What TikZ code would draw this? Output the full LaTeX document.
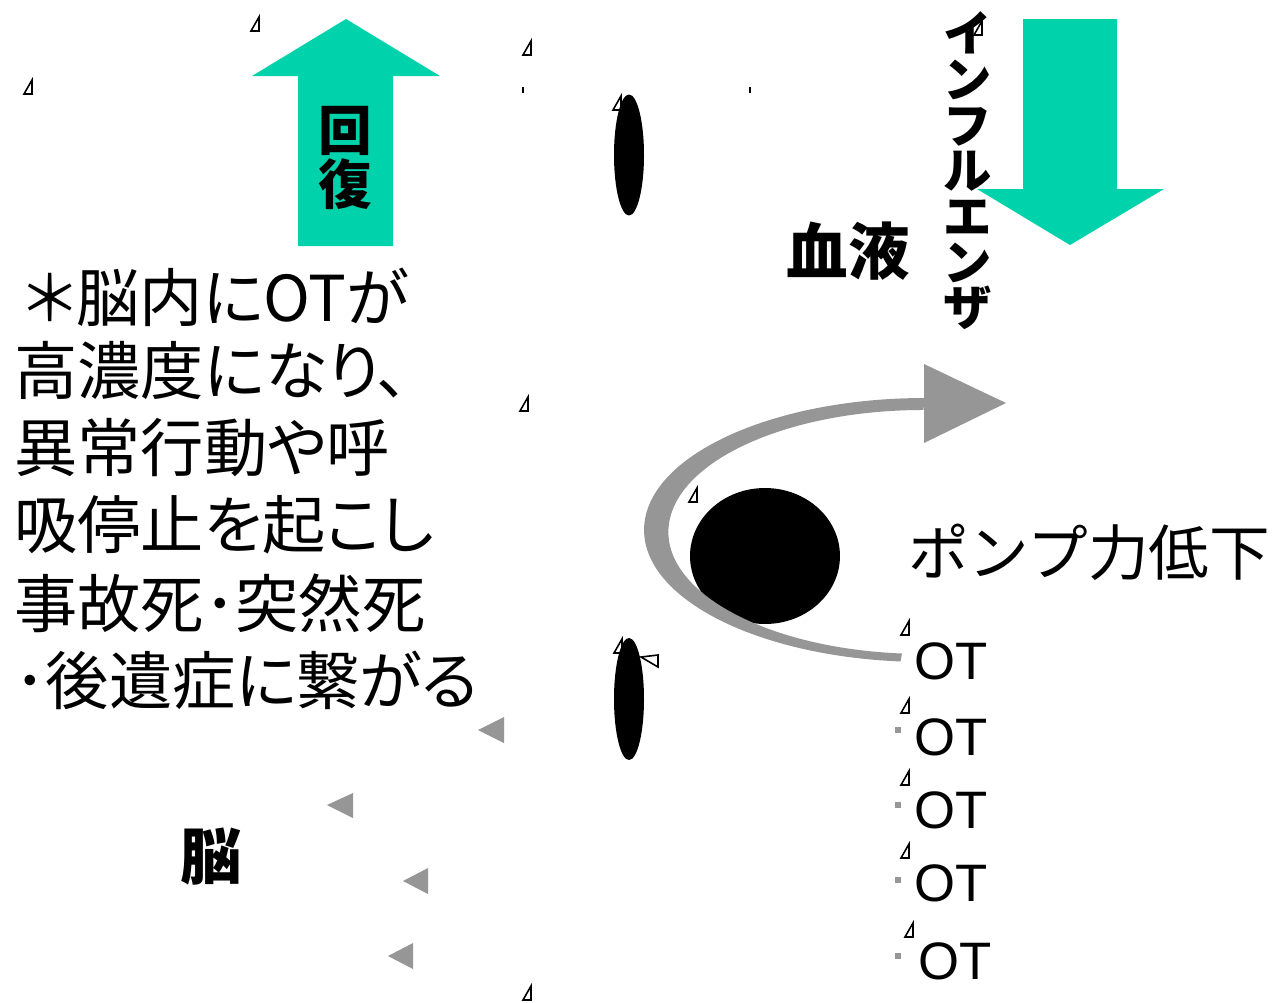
\documentclass[tikz,border=0pt]{standalone}
\usepackage{fontspec}
\setmainfont{Noto Sans CJK JP}
\newfontfamily\jpprop[RawFeature=+palt]{Noto Sans CJK JP}
\newfontfamily\latfont{Liberation Sans}
\definecolor{tealarrow}{RGB}{0,210,172}
\definecolor{grayarrow}{RGB}{150,150,150}
\begin{document}
\begin{tikzpicture}[x=0.02cm,y=-0.02cm,
  mk/.pic={\draw[line width=0.9pt,line join=miter] (4,-7)--(4,7)--(-4,7)--cycle;},
  bigtxt/.style={inner sep=0pt,font=\fontsize{34.5pt}{40pt}\selectfont},
  lefttxt/.style={inner sep=0pt,anchor=west,font=\jpprop\fontsize{36pt}{40pt}\selectfont},
  bigbold/.style={inner sep=0pt,font=\bfseries\fontsize{35pt}{40pt}\selectfont},
  ottxt/.style={inner sep=0pt,anchor=west,font=\latfont\fontsize{30pt}{32pt}\selectfont},
  bullet/.style={fill=grayarrow},
  lefttri/.style={fill=grayarrow}]
\fill[white] (0,0) rectangle (1272,1002);
\useasboundingbox (0,0) rectangle (1272,1002);

% teal arrows
\fill[tealarrow] (346,19) -- (440,76) -- (393,76) -- (393,246) -- (298,246) -- (298,76) -- (252,76) -- cycle;
\fill[tealarrow] (1023,19) -- (1117,19) -- (1117,189) -- (1164,189) -- (1070,245) -- (977,189) -- (1023,189) -- cycle;

% tiny marks
\foreach \p in {(255,24),(28,87),(527,48),(617,103),(524,404),(693,495),(618,646),(527,993),(905,628),(905,706),(905,778),(905,851),(909,930),(978,28)}
  \pic at \p {mk};
\draw[line width=0.9pt] (641,657) -- (658,655) -- (658,667) -- cycle;
\draw[line width=1.2pt] (523,87) -- (523,93);
\draw[line width=1.2pt] (750,87) -- (750,93);

% ellipses and heart
\fill[black] (629,155) ellipse [x radius=0.3cm, y radius=1.21cm];
\fill[black] (629,699) ellipse [x radius=0.3cm, y radius=1.22cm];
\fill[black] (765,556) ellipse [x radius=1.5cm, y radius=1.36cm];

% curved grey arrow
\fill[grayarrow] (925,398) arc[start angle=90, end angle=265, x radius=5.62cm, y radius=2.64cm]
  -- (902,653.5) arc[start angle=265.2, end angle=90, x radius=5.1cm, y radius=2.44cm] -- cycle;
\fill[grayarrow] (924,364) -- (1006,403) -- (924,443) -- cycle;

% grey left-pointing triangles
\fill[lefttri] (478,730) -- (504,717) -- (504,743) -- cycle;
\fill[lefttri] (327,805) -- (353,793) -- (353,818) -- cycle;
\fill[lefttri] (403,881) -- (428,868) -- (428,894) -- cycle;
\fill[lefttri] (388,956) -- (413,943) -- (413,969) -- cycle;

% texts
\node[inner sep=0pt,align=center,font=\bfseries\fontsize{30.5pt}{31.2pt}\selectfont] (kaifuku) at (345,158) {回\\復};
\node[bigbold] (ketsueki) at (848,251) {血液};
\node[inner sep=0pt,align=center,font=\bfseries\fontsize{27.5pt}{26pt}\selectfont] (flu) at (968,171) {イ\\ン\\フ\\ル\\エ\\ン\\ザ};
\node[bigbold] (nou) at (211,857) {脳};
\node[bigtxt,anchor=west] (pump) at (908,552) {ポンプ力低下};

\node[lefttxt] (l1) at (24,297) {＊脳内にOTが};
\node[lefttxt] (l2) at (14,370) {高濃度になり、};
\node[lefttxt] (l3) at (14,448) {異常行動や呼};
\node[lefttxt] (l4) at (14,525) {吸停止を起こし};
\node[lefttxt] (l5) at (14,603) {事故死･突然死};
\node[lefttxt] (l6) at (14,680) {･後遺症に繋がる};

% OT list
\node[ottxt] (ot1) at (914,661) {OT};
\node[ottxt] (ot2) at (914,737) {OT};
\node[ottxt] (ot3) at (914,810) {OT};
\node[ottxt] (ot4) at (914,883) {OT};
\node[ottxt] (ot5) at (918,961) {OT};
\fill[bullet] (895,727) rectangle (901,733);
\fill[bullet] (895,802) rectangle (901,808);
\fill[bullet] (895,877) rectangle (901,883);
\fill[bullet] (895,953) rectangle (901,959);
\end{tikzpicture}
\end{document}
